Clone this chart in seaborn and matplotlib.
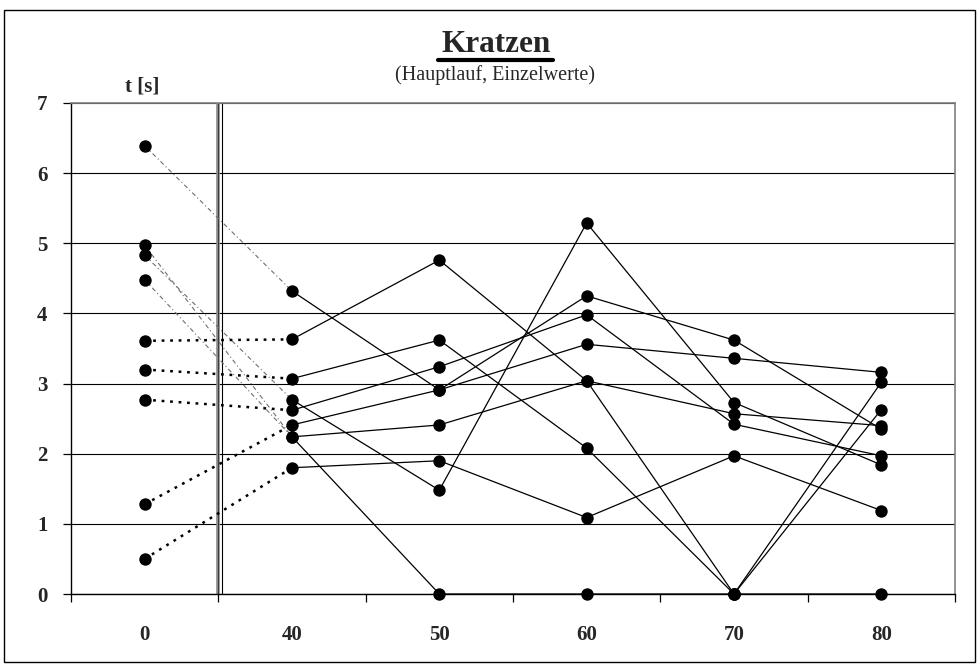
import matplotlib
matplotlib.use("Agg")
import matplotlib.pyplot as plt
from matplotlib.lines import Line2D
from matplotlib.patches import Rectangle
import seaborn as sns
import pandas as pd

# ---- data -------------------------------------------------------------
categories = ["0", "40", "50", "60", "70", "80"]
s1 = [6.39, 4.32, 2.91, 3.56, 3.36, 3.16]
s2 = [3.61, 3.63, 4.76, 3.04, 2.57, 2.40]
s3 = [3.20, 3.07, 3.62, 2.08, 0.00, 2.63]
s4 = [4.83, 2.77, 1.48, 5.29, 2.73, 1.84]
s5 = [2.77, 2.62, 3.24, 3.98, 2.42, 1.97]
s6 = [1.28, 2.41, 2.91, 4.25, 3.62, 2.35]
s7 = [4.97, 2.24, 2.41, 3.04, 0.00, 3.02]
s8 = [4.48, 2.24, 0.00, 0.00, 0.00, 0.00]
s9 = [0.50, 1.80, 1.90, 1.09, 1.97, 1.19]
series = {"s1": s1, "s2": s2, "s3": s3, "s4": s4, "s5": s5,
          "s6": s6, "s7": s7, "s8": s8, "s9": s9}
light_series = ["s1", "s4", "s7", "s8"]
y_ticks = [0, 1, 2, 3, 4, 5, 6, 7]

rows = []
for name, vals in series.items():
    for i, v in enumerate(vals):
        rows.append(dict(series=name, pos=i, cat=categories[i], t=v,
                         light=name in light_series))
df = pd.DataFrame(rows)

# ---- style -------------------------------------------------------------
sns.set_theme(style="white")
plt.rcParams['font.family'] = ['Liberation Serif', 'DejaVu Serif']

W, H = 980, 666
fig = plt.figure(figsize=(W / 100, H / 100), dpi=100)
ax = fig.add_axes([71 / W, 1 - 594 / H, (955 - 71) / W, (594 - 103) / H])

# first segment (0 -> 40) dotted
first = df[df.pos <= 1]
sns.lineplot(data=first[~first.light], x="pos", y="t", units="series",
             estimator=None, color="black", lw=1.8, linestyle=(0, (1.1, 2.3)),
             ax=ax, legend=False, zorder=3)
sns.lineplot(data=first[first.light], x="pos", y="t", units="series",
             estimator=None, color="#6e6e6e", lw=0.8, linestyle=(0, (4, 2.5, 1, 2.5)),
             ax=ax, legend=False, zorder=3)
# remaining segments solid
main = df[df.pos >= 1]
sns.lineplot(data=main, x="pos", y="t", units="series", estimator=None,
             color="black", lw=0.9, ax=ax, legend=False, zorder=3)
# markers
sns.scatterplot(data=df, x="pos", y="t", color="black", edgecolor="black",
                s=80, linewidth=0, ax=ax, legend=False, zorder=5, clip_on=False)

# axes
ax.set_xlim(-0.5, 5.5)
ax.set_ylim(0, 7)
ax.set_xticks(range(len(categories)))
ax.set_xticklabels(categories, fontsize=15, fontweight="bold")
ax.set_xticks([i - 0.5 for i in range(len(categories) + 1)], minor=True)
ax.tick_params(axis="x", which="major", length=0, pad=22)
ax.tick_params(axis="x", which="minor", length=6, width=0.9, color="black",
               direction="out", bottom=True)
ax.set_yticks(y_ticks)
ax.set_yticklabels([str(v) for v in y_ticks], fontsize=15, fontweight="bold")
ax.tick_params(axis="y", length=6, width=0.9, color="black", direction="out",
               left=True, pad=11)
ax.set_xlabel("")
ax.set_ylabel("")
ax.yaxis.grid(True, color="black", lw=0.8)
ax.xaxis.grid(False)
ax.set_axisbelow(True)
for side in ["left", "bottom"]:
    ax.spines[side].set_color("black")
    ax.spines[side].set_linewidth(1.0)
for side in ["top", "right"]:
    ax.spines[side].set_color("#808080")
    ax.spines[side].set_linewidth(1.2)

# axis break (double vertical line)
ax.axvline(0.5, color="#8a8a8a", lw=2.6, zorder=2)
ax.axvline(0.5, color="black", lw=0.4, zorder=2)
ax.axvline(0.528, color="black", lw=0.8, zorder=2)

# titles
fig.text(496 / W, 1 - 52 / H, "Kratzen", ha="center", va="baseline",
         fontsize=22.5, fontweight="bold")
fig.add_artist(Line2D([438 / W, 553 / W], [1 - 60 / H, 1 - 60 / H],
                      color="black", lw=3.0, transform=fig.transFigure))
fig.text(495 / W, 1 - 80 / H, "(Hauptlauf, Einzelwerte)", ha="center",
         va="baseline", fontsize=14.5)
fig.text(142 / W, 1 - 91 / H, "t [s]", ha="center", va="baseline",
         fontsize=15, fontweight="bold")

# outer frame
fig.add_artist(Rectangle((4 / W, 1 - 662 / H), (975 - 4) / W, (662 - 10) / H,
                         fill=False, ec="black", lw=1.0, transform=fig.transFigure))

fig.savefig("out.png", dpi=100, facecolor="white")
